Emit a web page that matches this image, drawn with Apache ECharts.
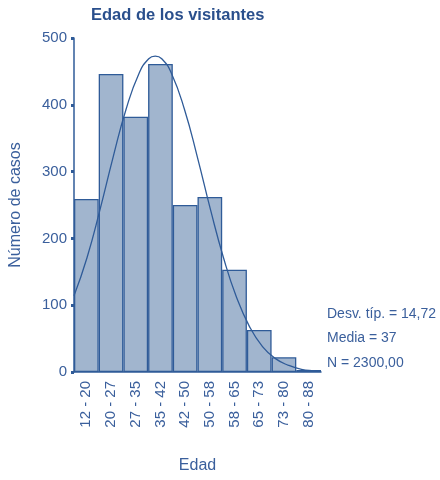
<!DOCTYPE html>
<html>
<head>
<meta charset="utf-8">
<script src="https://cdn.jsdelivr.net/npm/echarts@6/dist/echarts.min.js"></script>
<style>
  html, body { margin: 0; padding: 0; background: #fff; }
  #chart { width: 440px; height: 480px; }
</style>
</head>
<body>
<div id="chart"></div>
<script>
// intervalos de edad y número de casos
var categories = ['12 - 20', '20 - 27', '27 - 35', '35 - 42', '42 - 50', '50 - 58', '58 - 65', '65 - 73', '73 - 80', '80 - 88']
var casos = [259, 446, 382, 461, 250, 262, 153, 63, 22, 3]
// curva normal (edad, casos)
var curvaEdad = [12, 16, 20, 24, 28, 32, 35, 37, 39, 42, 46, 50, 54, 58, 62, 66, 70, 74, 78, 82, 86, 88]
var curvaCasos = [114, 171, 243, 321, 393, 447, 469, 473, 469, 447, 393, 321, 243, 171, 112, 68, 38, 20, 10, 4, 2, 1]
var yTicks = [0, 100, 200, 300, 400, 500]
var stats = ['Desv. típ. = 14,72', 'Media = 37', 'N = 2300,00']

var azul = '#2f5b98'
var texto = '#3a5f9c'

var chart = echarts.init(document.getElementById('chart'))

chart.setOption({
    animation: false,
    textStyle: { fontFamily: 'Liberation Sans, Arial, sans-serif' },
    title: {
        text: 'Edad de los visitantes',
        left: 86,
        top: 2,
        textStyle: { color: '#2a4f8c', fontSize: 16.5, fontWeight: 'bold' }
    },
    graphic: stats.map(function(s, i) {
        return {
            type: 'text',
            left: 327,
            top: 307 + i * 24.5,
            style: { text: s, fill: texto, fontSize: 14, fontFamily: 'Liberation Sans, Arial, sans-serif' }
        }
    }),
    grid: { left: 73, right: 119, top: 38, bottom: 108 },
    xAxis: [
        {
            type: 'category',
            data: categories,
            name: 'Edad',
            nameLocation: 'middle',
            nameGap: 86,
            nameTextStyle: { color: texto, fontSize: 16 },
            axisLine: { lineStyle: { color: azul, width: 1.5 } },
            axisTick: { alignWithLabel: true, length: 3, lineStyle: { color: azul, width: 3 } },
            axisLabel: { rotate: 90, color: texto, fontSize: 15, margin: 9, interval: 0 }
        },
        {
            type: 'value',
            min: 12,
            max: 88,
            show: false
        }
    ],
    yAxis: {
        type: 'value',
        min: 0,
        max: 500,
        interval: 100,
        name: 'Número de casos',
        nameLocation: 'middle',
        nameGap: 50,
        nameTextStyle: { color: texto, fontSize: 16 },
        splitLine: { show: false },
        axisLine: { show: true, lineStyle: { color: azul, width: 1.5 } },
        axisTick: { show: true, length: 3, lineStyle: { color: azul, width: 3 } },
        axisLabel: {
            color: texto,
            fontSize: 15,
            margin: 7,
            formatter: function(v) { return yTicks.indexOf(v) >= 0 ? v : '' }
        }
    },
    series: [
        {
            type: 'bar',
            data: casos,
            barCategoryGap: '0%',
            itemStyle: { color: '#a1b5ce', borderColor: azul, borderWidth: 1.3 }
        },
        {
            type: 'line',
            xAxisIndex: 1,
            data: curvaEdad.map(function(e, i) { return [e, curvaCasos[i]] }),
            smooth: true,
            symbol: 'none',
            lineStyle: { color: azul, width: 1.3 }
        }
    ]
})
</script>
</body>
</html>
